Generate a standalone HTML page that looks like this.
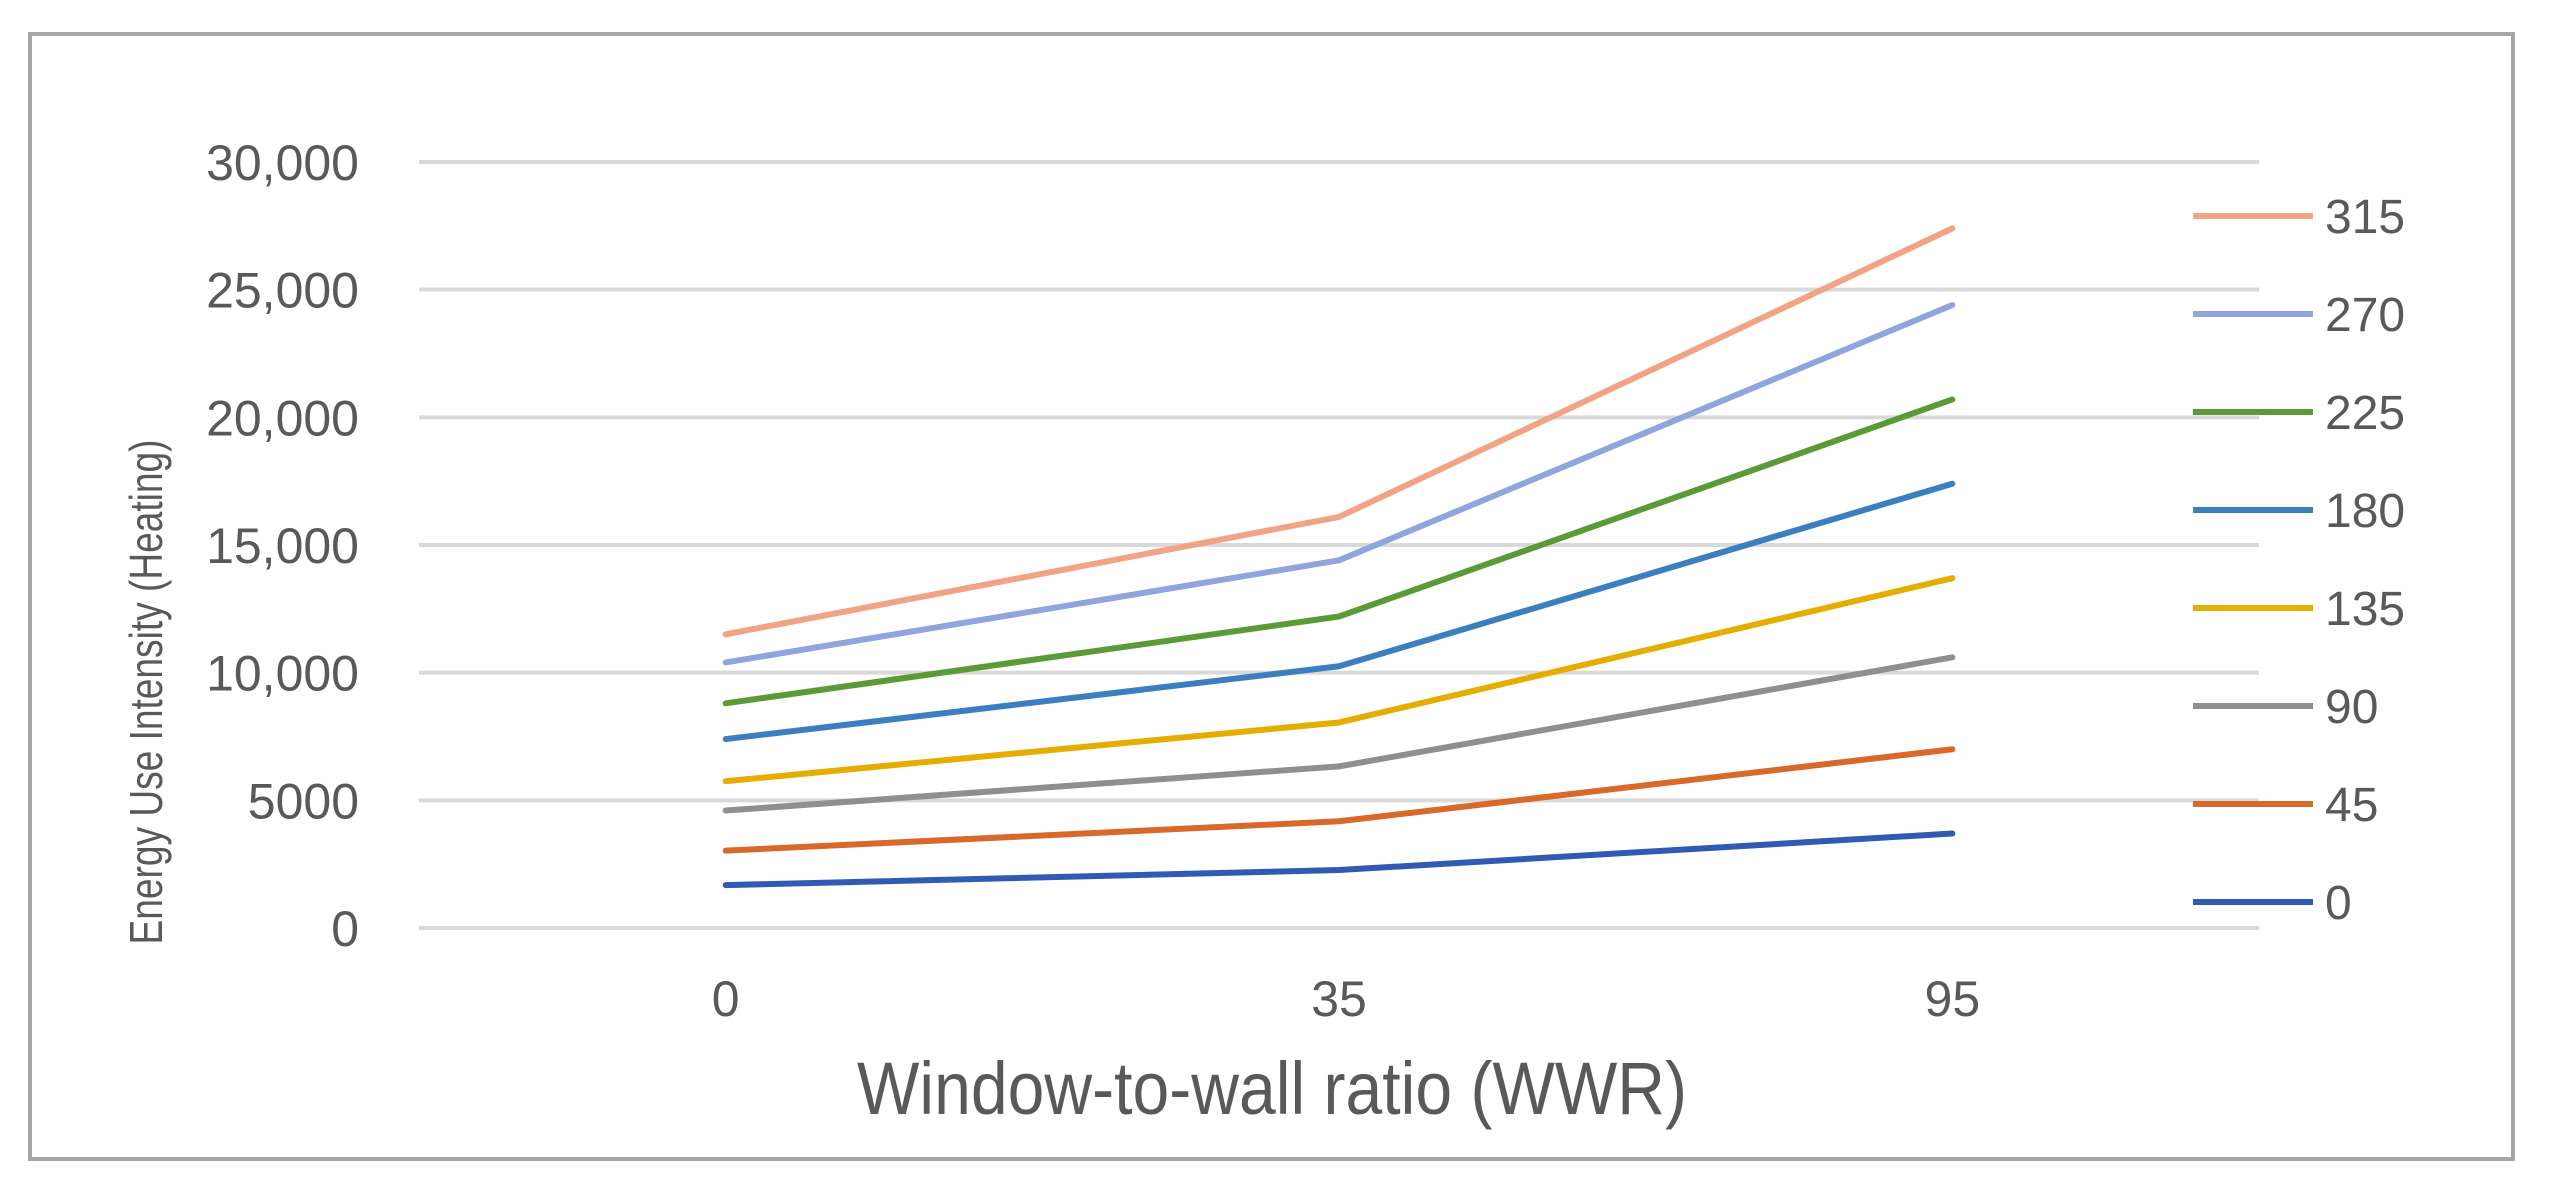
<!DOCTYPE html>
<html><head><meta charset="utf-8">
<style>
html,body{margin:0;padding:0;background:#fff;}
svg{display:block;}
text{font-family:"Liberation Sans",sans-serif;fill:#595959;}
</style></head>
<body>
<svg id="chart" width="2549" height="1187" viewBox="0 0 2549 1187" xmlns="http://www.w3.org/2000/svg">
<rect x="30" y="34" width="2483" height="1125" fill="#fff" stroke="#a6a6a6" stroke-width="4"/>
<g id="grid"></g>
<g id="yticks"></g>
<g id="xticks"></g>
<g id="series"></g>
<g id="legend"></g>
<text x="0" y="0" transform="translate(162,692) rotate(-90)" text-anchor="middle" font-size="46" textLength="505" lengthAdjust="spacingAndGlyphs">Energy Use Intensity  (Heating)</text>
<text x="1272" y="1114" text-anchor="middle" font-size="74" textLength="830" lengthAdjust="spacingAndGlyphs">Window-to-wall ratio (WWR)</text>
</svg>
<script>
const categories = ["0", "35", "95"];
const seriesNames = ["315", "270", "225", "180", "135", "90", "45", "0"];
const s315 = [11500, 16100, 27400];
const s270 = [10400, 14400, 24400];
const s225 = [8800, 12200, 20700];
const s180 = [7400, 10250, 17400];
const s135 = [5750, 8050, 13700];
const s90 = [4600, 6330, 10600];
const s45 = [3030, 4180, 7000];
const s0 = [1680, 2270, 3700];
const yTicks = [0, 5000, 10000, 15000, 20000, 25000, 30000];
const yTickLabels = ["0", "5000", "10,000", "15,000", "20,000", "25,000", "30,000"];

const seriesData = [s315, s270, s225, s180, s135, s90, s45, s0];
const colors = ["#f2a383", "#8fa5dd", "#5a9b37", "#3b7fc1", "#e5ad00", "#8f8f8f", "#d8692a", "#2f5bb4"];
const NS = "http://www.w3.org/2000/svg";
const plotL = 419, plotR = 2259, y0px = 928, y30px = 162;
function yScale(v){ return y0px - (v / 30000) * (y0px - y30px); }
function xScale(i){ const bw = (plotR - plotL) / categories.length; return plotL + bw * (i + 0.5); }
function mk(tag, attrs, parent){ const e = document.createElementNS(NS, tag); for (const k in attrs) e.setAttribute(k, attrs[k]); parent.appendChild(e); return e; }

const grid = document.getElementById('grid');
const yt = document.getElementById('yticks');
yTicks.forEach((v, i) => {
  const l = mk('line', {x1: plotL, x2: plotR, y1: yScale(v), y2: yScale(v), stroke: '#d9d9d9', 'stroke-width': 4}, grid);
  
  
  const t = mk('text', {x: 359, y: yScale(v) + 18, 'text-anchor': 'end', 'font-size': 50}, yt);
  t.textContent = yTickLabels[i];
  
  
});
const xt = document.getElementById('xticks');
categories.forEach((c, i) => {
  const t = mk('text', {x: xScale(i), y: 1016, 'text-anchor': 'middle', 'font-size': 50}, xt);
  t.textContent = c;
  
  
});
const sg = document.getElementById('series');
for (let k = seriesData.length - 1; k >= 0; k--) {
  const pts = seriesData[k].map((v, i) => xScale(i) + ',' + yScale(v)).join(' ');
  const p = mk('polyline', {points: pts, fill: 'none', stroke: colors[k], 'stroke-width': 6, 'stroke-linejoin': 'round', 'stroke-linecap': 'round'}, sg);
  
  
}
const lg = document.getElementById('legend');
seriesNames.forEach((n, k) => {
  const y = 216 + k * 98;
  const g = mk('g', {}, lg);
  
  
  mk('line', {x1: 2193, x2: 2313, y1: y, y2: y, stroke: colors[k], 'stroke-width': 6}, g);
  const t = mk('text', {x: 2325, y: y + 17, 'font-size': 48}, g);
  t.textContent = n;
});
</script>
</body></html>
